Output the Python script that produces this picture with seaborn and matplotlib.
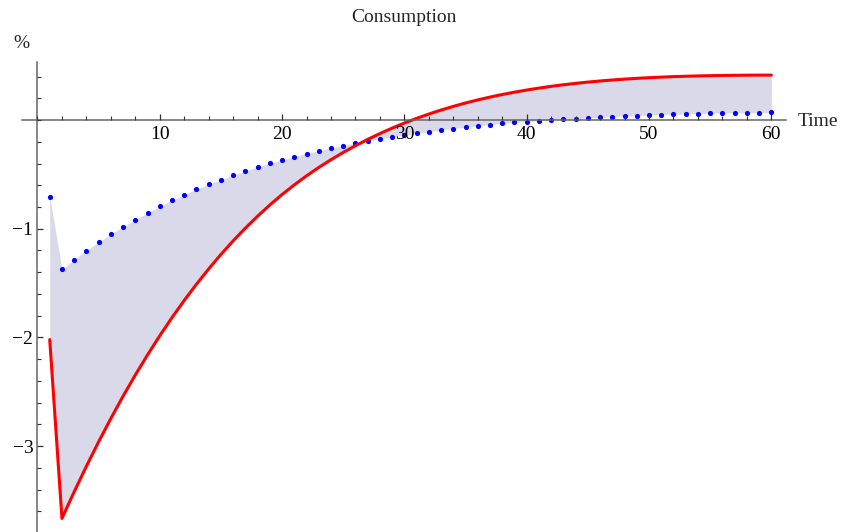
import numpy as np
import pandas as pd
import matplotlib
matplotlib.use("Agg")
import matplotlib.pyplot as plt
import seaborn as sns
from matplotlib.ticker import MultipleLocator, FixedLocator

sns.set_style("white")
plt.rcParams['font.family'] = ['Liberation Serif', 'DejaVu Serif']

time = list(range(1, 61))
red_values = [-2.02, -3.665, -3.42, -3.185, -2.96, -2.745, -2.54, -2.345, -2.16, -1.984,
              -1.817, -1.659, -1.51, -1.369, -1.236, -1.111, -0.994, -0.884, -0.781, -0.685,
              -0.596, -0.513, -0.436, -0.3645, -0.298, -0.236, -0.178, -0.124, -0.074, -0.0275,
              0.0155, 0.0553, 0.092, 0.1258, 0.1568, 0.1852, 0.2112, 0.2349, 0.2565, 0.2761,
              0.2939, 0.31, 0.3245, 0.3375, 0.3491, 0.3594, 0.3685, 0.3765, 0.3835, 0.3896,
              0.3948, 0.3992, 0.4029, 0.4059, 0.4083, 0.4102, 0.4116, 0.4126, 0.4132, 0.4135]
blue_values = [-0.705, -1.373, -1.284, -1.202, -1.124, -1.051, -0.981, -0.916, -0.854, -0.793,
               -0.739, -0.687, -0.637, -0.592, -0.549, -0.508, -0.469, -0.433, -0.399, -0.367,
               -0.337, -0.308, -0.282, -0.258, -0.235, -0.212, -0.191, -0.172, -0.154, -0.138,
               -0.123, -0.107, -0.092, -0.078, -0.065, -0.053, -0.042, -0.031, -0.022, -0.014,
               -0.007, 0.0, 0.006, 0.012, 0.019, 0.025, 0.031, 0.036, 0.041, 0.046,
               0.05, 0.054, 0.057, 0.06, 0.062, 0.064, 0.066, 0.067, 0.069, 0.071]
x_ticks = [10, 20, 30, 40, 50, 60]
y_ticks = [-3, -2, -1]

df = pd.DataFrame({"Time": time, "red": red_values, "blue": blue_values})

fig = plt.figure(figsize=(8.43, 5.32), dpi=100)
ax = fig.add_axes([22 / 843, 0.0, 764 / 843, 470 / 532])

ax.fill_between(df["Time"], df["blue"], df["red"], color="#D9D9EA", lw=0, zorder=1)
sns.scatterplot(data=df, x="Time", y="blue", color="#0000FF", s=14, linewidth=0, ax=ax, zorder=2)
sns.lineplot(data=df, x="Time", y="red", color="#FF0000", linewidth=2.2, ax=ax, zorder=2.2)
ax.set_axisbelow(False)

ax.set_xlim(-1.267, 61.2)
ax.set_ylim(-3.79, 0.534)

for side in ["top", "right"]:
    ax.spines[side].set_visible(False)
ax.spines["left"].set_position(("data", 0))
ax.spines["bottom"].set_position(("data", 0))
for side in ["left", "bottom"]:
    ax.spines[side].set_color("#666666")
    ax.spines[side].set_linewidth(1.1)

ax.xaxis.set_major_locator(FixedLocator(x_ticks))
ax.xaxis.set_minor_locator(MultipleLocator(2))
ax.yaxis.set_major_locator(FixedLocator(y_ticks))
ax.yaxis.set_minor_locator(MultipleLocator(0.2))
ax.tick_params(axis="both", which="both", bottom=True, left=True, top=False, right=False)
ax.tick_params(axis="both", which="major", direction="in", length=4.5, width=0.9,
               color="#333333", labelsize=14, labelcolor="black")
ax.tick_params(axis="both", which="minor", direction="in", length=2.8, width=0.8,
               color="#333333")
ax.tick_params(axis="x", which="major", pad=4)
ax.tick_params(axis="y", which="major", pad=3)
ax.set_xlabel("")
ax.set_ylabel("")
ax.grid(False)

fig.text(404 / 843, 1 - 17 / 532, "Consumption", ha="center", va="center", fontsize=14)
fig.text(21 / 843, 1 - 43 / 532, "%", ha="center", va="center", fontsize=14)
fig.text(798 / 843, 1 - 121 / 532, "Time", ha="left", va="center", fontsize=14)

fig.savefig("out.png", dpi=100)
